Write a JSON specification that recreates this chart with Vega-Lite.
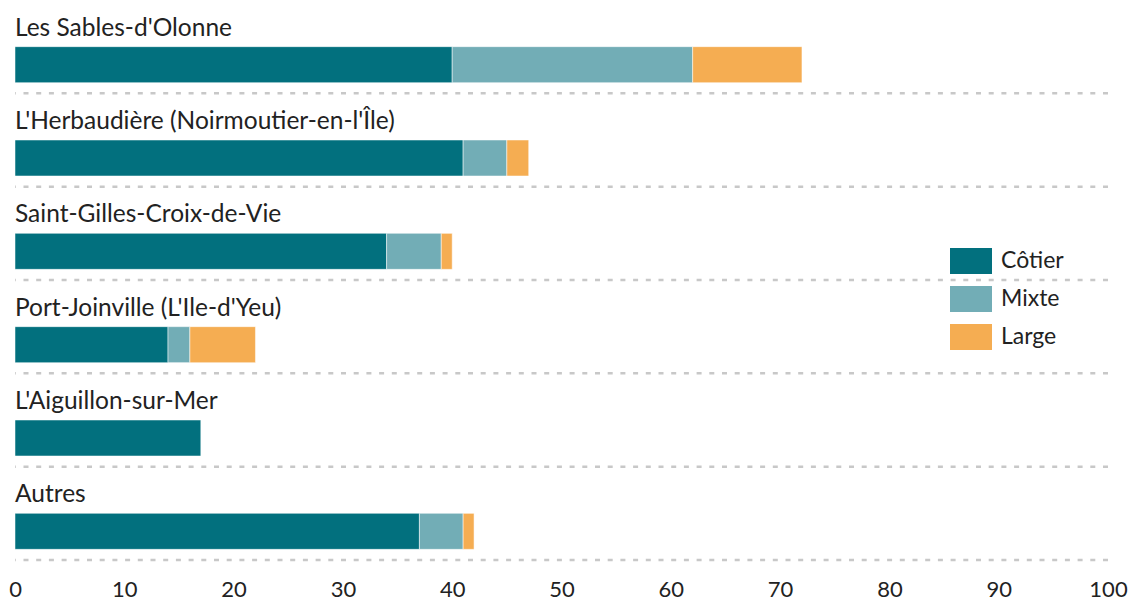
{
  "$schema": "https://vega.github.io/schema/vega-lite/v6.json",
  "width": 1093,
  "height": 560,
  "autosize": {"type": "none"},
  "padding": {"left": 15, "top": 0, "right": 22, "bottom": 46},
  "config": {"view": {"stroke": null}, "font": "Lato"},
  "encoding": {
    "y": {"field": "port", "type": "nominal",
          "sort": ["Les Sables-d'Olonne", "L'Herbaudière (Noirmoutier-en-l'Île)", "Saint-Gilles-Croix-de-Vie", "Port-Joinville (L'Ile-d'Yeu)", "L'Aiguillon-sur-Mer", "Autres"],
          "scale": {"paddingInner": 0, "paddingOuter": 0}, "axis": null}
  },
  "layer": [
    {
      "data": {"values": [
        {"port": "Les Sables-d'Olonne"},
        {"port": "L'Herbaudière (Noirmoutier-en-l'Île)"},
        {"port": "Saint-Gilles-Croix-de-Vie"},
        {"port": "Port-Joinville (L'Ile-d'Yeu)"},
        {"port": "L'Aiguillon-sur-Mer"},
        {"port": "Autres"}
      ]},
      "mark": {"type": "rule", "stroke": "#c8c8c8", "strokeWidth": 2.5, "strokeDash": [5, 7.7], "yOffset": 46.67},
      "encoding": {}
    },
    {
      "data": {"values": [
        {"port": "Les Sables-d'Olonne", "type": "Côtier", "ordre": 1, "value": 40},
        {"port": "Les Sables-d'Olonne", "type": "Mixte", "ordre": 2, "value": 22},
        {"port": "Les Sables-d'Olonne", "type": "Large", "ordre": 3, "value": 10},
        {"port": "L'Herbaudière (Noirmoutier-en-l'Île)", "type": "Côtier", "ordre": 1, "value": 41},
        {"port": "L'Herbaudière (Noirmoutier-en-l'Île)", "type": "Mixte", "ordre": 2, "value": 4},
        {"port": "L'Herbaudière (Noirmoutier-en-l'Île)", "type": "Large", "ordre": 3, "value": 2},
        {"port": "Saint-Gilles-Croix-de-Vie", "type": "Côtier", "ordre": 1, "value": 34},
        {"port": "Saint-Gilles-Croix-de-Vie", "type": "Mixte", "ordre": 2, "value": 5},
        {"port": "Saint-Gilles-Croix-de-Vie", "type": "Large", "ordre": 3, "value": 1},
        {"port": "Port-Joinville (L'Ile-d'Yeu)", "type": "Côtier", "ordre": 1, "value": 14},
        {"port": "Port-Joinville (L'Ile-d'Yeu)", "type": "Mixte", "ordre": 2, "value": 2},
        {"port": "Port-Joinville (L'Ile-d'Yeu)", "type": "Large", "ordre": 3, "value": 6},
        {"port": "L'Aiguillon-sur-Mer", "type": "Côtier", "ordre": 1, "value": 17},
        {"port": "Autres", "type": "Côtier", "ordre": 1, "value": 37},
        {"port": "Autres", "type": "Mixte", "ordre": 2, "value": 4},
        {"port": "Autres", "type": "Large", "ordre": 3, "value": 1}
      ]},
      "mark": {"type": "bar", "height": 36, "yOffset": 18, "stroke": "#ffffff", "strokeWidth": 1, "strokeOpacity": 0.5},
      "encoding": {
        "x": {"field": "value", "type": "quantitative", "stack": "zero",
              "scale": {"domain": [0, 100], "nice": false},
              "axis": {"title": null, "domain": false, "ticks": false, "grid": false, "values": [0,10,20,30,40,50,60,70,80,90,100],
                       "labelFontSize": 22, "labelColor": "#222222", "labelPadding": 19, "labelFont": "Lato", "labelFontWeight": 400, "labelFlush": false}},
        "order": {"field": "ordre", "type": "quantitative"},
        "color": {"field": "type", "type": "nominal", "sort": ["Côtier", "Mixte", "Large"],
                  "scale": {"domain": ["Côtier", "Mixte", "Large"], "range": ["#02707e", "#72adb6", "#f5ad52"]},
                  "legend": {"title": null, "orient": "none", "legendX": 935, "legendY": 240,
                             "symbolType": "M-1,-0.62H1V0.62H-1Z", "symbolSize": 1764, "symbolStrokeWidth": 0, "symbolOpacity": 1,
                             "rowPadding": 3, "labelOffset": 9, "labelFontSize": 23, "labelFont": "Lato", "labelFontWeight": 400, "labelColor": "#222222"}}
      }
    },
    {
      "data": {"values": [
        {"port": "Les Sables-d'Olonne"},
        {"port": "L'Herbaudière (Noirmoutier-en-l'Île)"},
        {"port": "Saint-Gilles-Croix-de-Vie"},
        {"port": "Port-Joinville (L'Ile-d'Yeu)"},
        {"port": "L'Aiguillon-sur-Mer"},
        {"port": "Autres"}
      ]},
      "mark": {"type": "text", "align": "left", "baseline": "middle", "yOffset": -18, "fontSize": 24.5, "fontWeight": 400, "color": "#222222", "font": "Lato"},
      "encoding": {
        "x": {"datum": 0},
        "text": {"field": "port"}
      }
    }
  ]
}
